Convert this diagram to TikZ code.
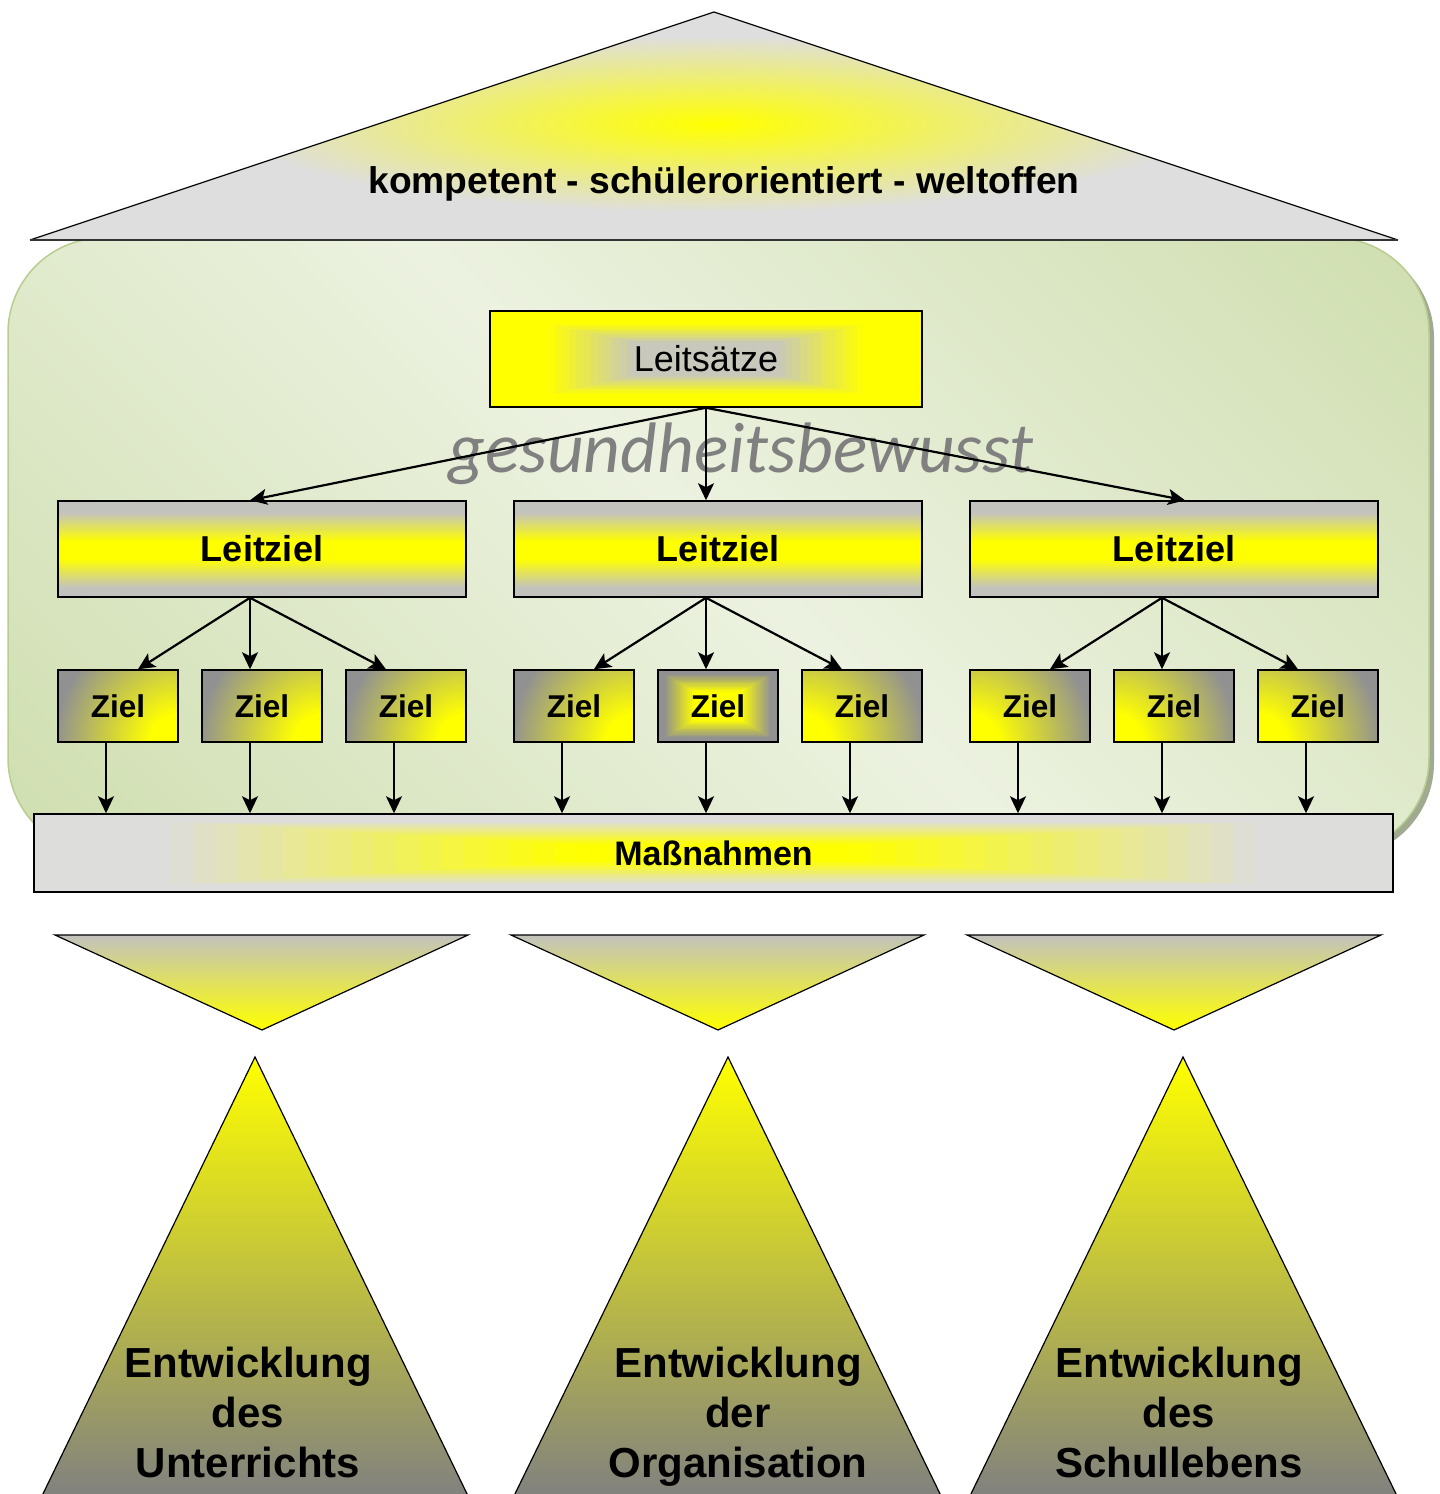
\documentclass[tikz,border=0pt]{standalone}
\usepackage{fontspec}
\setmainfont{Liberation Sans}
\newfontfamily\carlito{Carlito}
\usetikzlibrary{arrows.meta,calc}

\definecolor{gelb}{RGB}{255,255,0}
\definecolor{zgrau}{RGB}{145,145,145}
\definecolor{lzgrau}{RGB}{195,195,190}
\definecolor{mgrau}{RGB}{221,221,219}
\definecolor{dachgrau}{RGB}{222,222,222}
\definecolor{lsgrau}{RGB}{200,200,188}
\definecolor{vgrau}{RGB}{194,194,190}
\definecolor{tgrau}{RGB}{128,128,128}
\definecolor{hellgruen}{RGB}{236,242,224}
\definecolor{gruen}{RGB}{195,214,155}
\definecolor{gruenrand}{RGB}{185,205,145}
\definecolor{schatten}{RGB}{160,170,145}

\pgfdeclarehorizontalshading{gruenverlauf}{100bp}{color(0bp)=(gruen); color(50bp)=(hellgruen); color(100bp)=(gruen)}
\pgfdeclareverticalshading{leitband}{100bp}{color(0bp)=(lzgrau); color(30bp)=(lzgrau); color(45bp)=(gelb); color(54bp)=(gelb); color(69bp)=(lzgrau); color(100bp)=(lzgrau)}
% glow that is fully faded at the rim of the shaded shape
\pgfdeclareradialshading{dachglow}{\pgfpoint{0bp}{0bp}}{color(0bp)=(gelb); color(17.6bp)=(dachgrau); color(50bp)=(dachgrau)}
\pgfdeclareradialshading{zielglow}{\pgfpoint{0bp}{0bp}}{color(0bp)=(gelb); color(4bp)=(gelb); color(17.6bp)=(zgrau); color(50bp)=(zgrau)}

% stepped glow in a box: edge colour, centre colour, fade from, fade to
\newcommand{\rahmenglow}[4]{%
  \foreach \k in {0,...,29}{%
    \pgfmathsetmacro{\fr}{\k/30}%
    \pgfmathsetmacro{\mx}{100*min(1,max(0,(\fr-#3)/(#4-#3)))}%
    \fill[#2!\mx!#1] ($(path picture bounding box.south west)!\fr!(path picture bounding box.center)$)
      rectangle ($(path picture bounding box.north east)!\fr!(path picture bounding box.center)$);
  }}

\begin{document}
\begin{tikzpicture}[x=1pt, y=-1pt, >={Stealth[length=17pt,width=16pt,inset=4pt]},
    pfeil/.style={->, line width=2.2pt},
    kasten/.style={draw, line width=1.5pt, inner sep=0pt},
    leitziel/.style={kasten, minimum width=408pt, minimum height=96pt, shading=leitband,
      font=\fontsize{36}{40}\selectfont\bfseries},
    ziel/.style={kasten, fill=zgrau, minimum width=120pt, minimum height=72pt,
      font=\fontsize{31.5}{34}\selectfont\bfseries},
    gelbso/.style={path picture={\shade[shading=zielglow]
      (path picture bounding box.south east) circle (175pt);}},
    gelbsw/.style={path picture={\shade[shading=zielglow]
      (path picture bounding box.south west) circle (175pt);}},
    gelbmitte/.style={path picture={\rahmenglow{zgrau}{gelb}{0.1}{0.6}}},
    bereich/.style={anchor=north, align=center, inner sep=0pt,
      font=\fontsize{42}{50}\selectfont\bfseries}]
  \useasboundingbox (0,0) rectangle (1440,1494);

  % Haus
  \fill[schatten, rounded corners=95pt] (13,243) rectangle (1434,858);
  \shadedraw[shading=gruenverlauf, shading angle=45, rounded corners=95pt,
    draw=gruenrand, line width=1.5pt] (8,238) rectangle (1429,853);

  % Dach
  \path[fill=dachgrau, path picture={\shade[shading=dachglow]
      ([yshift=2pt]path picture bounding box.center) ellipse (560pt and 125pt);}]
    (30,240) -- (714,12) -- (1398,240) -- cycle;
  \draw[line width=1.2pt] (30,240) -- (714,12) -- (1398,240);
  \draw[line width=2.5pt, black!80] (30,240) -- (1398,240);
  \node[font=\fontsize{37.2}{40}\selectfont\bfseries, anchor=base] (motto) at (724,193)
    {kompetent - schülerorientiert - weltoffen};

  \node[font=\fontsize{71.5}{80}\selectfont\carlito\itshape, text=tgrau, anchor=base] (gb)
    at (741,472) {gesundheitsbewusst};

  % Leitsaetze und Leitziele
  \node[kasten, minimum width=432pt, minimum height=96pt, font=\fontsize{36}{40}\selectfont,
    path picture={\rahmenglow{gelb}{lsgrau}{0.25}{0.65}}] (ls) at (706,359) {Leitsätze};
  \node[leitziel] (lz1) at (262,549) {Leitziel};
  \node[leitziel] (lz2) at (718,549) {Leitziel};
  \node[leitziel] (lz3) at (1174,549) {Leitziel};
  \draw[pfeil] (ls.south) -- ([xshift=-12pt]lz1.north);
  \draw[pfeil] (ls.south) -- (ls.south |- lz2.north);
  \draw[pfeil] (ls.south) -- ([xshift=11pt]lz3.north);

  % Ziele
  \foreach \i/\x/\g in {1/118/gelbso, 2/262/gelbso, 3/406/gelbso, 4/574/gelbso,
      5/718/gelbmitte, 6/862/gelbsw, 7/1030/gelbsw, 8/1174/gelbsw, 9/1318/gelbsw}
    \node[ziel, \g] (z\i) at (\x,706) {Ziel};
  \foreach \l/\a/\b/\c in {1/1/2/3, 2/4/5/6, 3/7/8/9}{
    \draw[pfeil] ([xshift=-12pt]lz\l.south) -- ([xshift=20pt]z\a.north);
    \draw[pfeil] ([xshift=-12pt]lz\l.south) -- ([xshift=-12pt]z\b.north);
    \draw[pfeil] ([xshift=-12pt]lz\l.south) -- ([xshift=-20pt]z\c.north);
  }

  % Massnahmen
  \node[kasten, minimum width=1359pt, minimum height=78pt,
    font=\fontsize{34}{38}\selectfont\bfseries,
    path picture={\rahmenglow{mgrau}{gelb}{0.18}{0.78}}] (mn) at (713.5,853) {Maßnahmen};
  \foreach \i in {1,...,9}
    \draw[pfeil] ([xshift=-12pt]z\i.south) -- ([xshift=-12pt]z\i.south |- mn.north);

  % Trichter
  \foreach \l/\m/\r in {55/262/468, 511/718/924, 967/1174/1381}
    \shadedraw[top color=vgrau, bottom color=gelb, line width=1.2pt]
      (\l,935) -- (\r,935) -- (\m,1030) -- cycle;

  % Saeulen
  \foreach \l/\m/\r in {40/255/470, 512/728/943, 968/1183/1399}
    \shadedraw[top color=gelb, bottom color=tgrau, line width=1.2pt]
      (\l,1500) -- (\m,1057) -- (\r,1500) -- cycle;
  \node[bereich] (b1) at (248,1347) {Entwicklung\\des\\Unterrichts};
  \node[bereich] (b2) at (738,1347) {Entwicklung\\der\\Organisation};
  \node[bereich] (b3) at (1179,1347) {Entwicklung\\des\\Schullebens};
\end{tikzpicture}
\end{document}
